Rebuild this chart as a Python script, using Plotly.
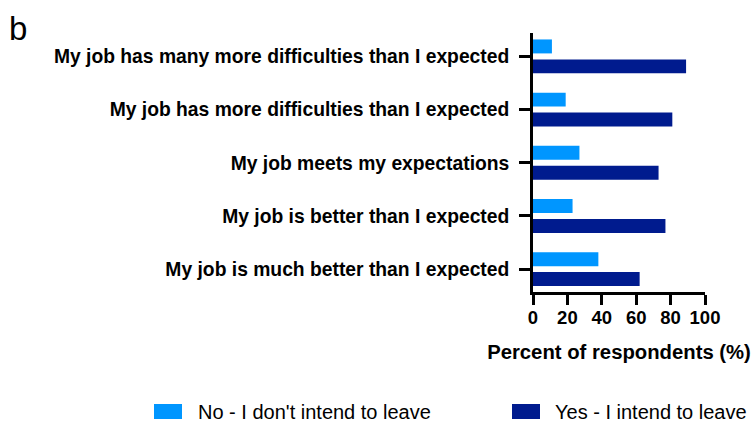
import plotly.graph_objects as go

categories = [
    "My job has many more difficulties than I expected",
    "My job has more difficulties than I expected",
    "My job meets my expectations",
    "My job is better than I expected",
    "My job is much better than I expected",
]
no_leave = [11, 19, 27, 23, 38]
yes_leave = [89, 81, 73, 77, 62]
series_names = ["No - I don't intend to leave", "Yes - I intend to leave"]
colors = ["#0096FF", "#001B8E"]
x_ticks = [0, 20, 40, 60, 80, 100]

W, H = 756, 423
ML, MR, MT, MB = 533, 51, 33, 131
PW = W - ML - MR
PH = H - MT - MB

def px(x):
    return (x - ML) / PW

def py(y):
    return (H - MB - y) / PH

FONT = "Arial, Liberation Sans, sans-serif"

fig = go.Figure()
for name, vals, col in zip(series_names, [no_leave, yes_leave], colors):
    fig.add_trace(go.Bar(
        y=categories, x=vals, name=name, orientation="h",
        marker=dict(color=col, line=dict(width=0)),
        showlegend=False,
    ))

fig.update_layout(
    width=W, height=H,
    margin=dict(l=ML, r=MR, t=MT, b=MB, pad=0),
    paper_bgcolor="white", plot_bgcolor="white",
    barmode="group", bargap=0.25, bargroupgap=0.3,
    font=dict(family=FONT, color="black"),
)
fig.update_yaxes(
    type="category", range=[4.43, -0.44], autorange=False,
    showline=True, linecolor="black", linewidth=2.7,
    ticks="outside", ticklen=11, tickwidth=2.5, tickcolor="black",
    ticklabelstandoff=6,
    tickfont=dict(size=19.3, family=FONT, color="black", weight="bold"),
    showgrid=False, zeroline=False,
)
fig.update_xaxes(
    range=[0, 100], autorange=False,
    tickvals=x_ticks, ticktext=[str(v) for v in x_ticks],
    showline=True, linecolor="black", linewidth=2.7,
    ticks="outside", ticklen=10, tickwidth=2.5, tickcolor="black",
    ticklabelstandoff=-3,
    tickfont=dict(size=18.5, family=FONT, color="black", weight="bold"),
    title=dict(text="Percent of respondents (%)", standoff=18,
               font=dict(size=20.3, family=FONT, color="black", weight="bold")),
    showgrid=False, zeroline=False,
)

# panel letter
fig.add_annotation(text="b", xref="paper", yref="paper", x=px(7), y=py(28),
                   xanchor="left", yanchor="middle", showarrow=False,
                   font=dict(size=33, family=FONT, color="black"))

# manual legend
legend_items = [(154, 182, 196), (512, 540, 553)]
for (x0, x1, tx), name, col in zip(legend_items, series_names, colors):
    fig.add_shape(type="rect", xref="paper", yref="paper",
                  x0=px(x0), x1=px(x1), y0=py(404), y1=py(419),
                  fillcolor=col, line=dict(width=0))
    fig.add_annotation(text=name, xref="paper", yref="paper",
                       x=px(tx), y=py(411.5), xanchor="left", yanchor="middle",
                       showarrow=False,
                       font=dict(size=20, family=FONT, color="black"))

fig.write_html("out.html", config={"displayModeBar": False},
               post_script="document.documentElement.style.margin='0';document.body.style.margin='0';")
